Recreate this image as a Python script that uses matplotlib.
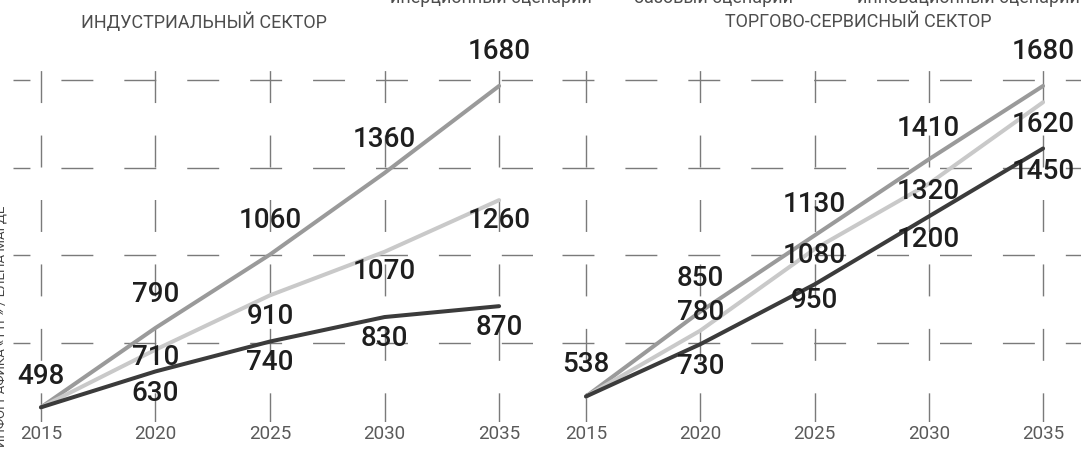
import matplotlib
matplotlib.use("Agg")
import matplotlib.pyplot as plt

plt.rcParams['lines.scale_dashes'] = False

# --- data ---
YEARS = [2015, 2020, 2025, 2030, 2035]
SCENARIOS = ["инерционный сценарий", "базовый сценарий", "инновационный сценарий"]

IND_INERT = [498, 630, 740, 830, 870]
IND_BASE = [498, 710, 910, 1070, 1260]
IND_INNOV = [498, 790, 1060, 1360, 1680]

TRD_INERT = [538, 730, 950, 1200, 1450]
TRD_BASE = [538, 780, 1080, 1320, 1620]
TRD_INNOV = [538, 850, 1130, 1410, 1680]

TITLES = ["ИНДУСТРИАЛЬНЫЙ СЕКТОР", "ТОРГОВО-СЕРВИСНЫЙ СЕКТОР"]
CREDIT = "ИНФОГРАФИКА «ТТР» / ЕЛЕНА МАГДЕ"

# --- styles ---
W, H = 1081, 451
COLORS = ["#3b3b3b", "#c9c9c9", "#9a9a9a"]   # inertial, base, innovation
GRID_C = "#7a7a7a"
Y_GRID = [735, 1057, 1379, 1701]
YLIM = (444, 1746)

# label vertical offsets in pixels (negative = above the point)
IND_DY = [[-31, 22, 21, 21, 21],
          [None, 8, 21, 20, 20],
          [None, -33, -34, -33, -34]]
TRD_DY = [[-32, 22, 16, 23, 23],
          [None, -18, 6, 8, 22],
          [None, -33, -31, -31, -34]]

LABEL_FONT = ['Roboto', 'DejaVu Sans']
LIGHT_FONT = ['Roboto', 'DejaVu Sans']

fig = plt.figure(figsize=(W / 100, H / 100), dpi=100)


def px_axes(x0, x1, y_top, y_bot):
    return fig.add_axes([x0 / W, 1 - y_bot / H, (x1 - x0) / W, (y_bot - y_top) / H])


def draw_panel(ax, series, dys, xlim, h_offset):
    ax.set_xlim(*xlim)
    ax.set_ylim(*YLIM)
    ax.set_xticks(YEARS)
    ax.set_yticks(Y_GRID)
    ax.set_yticklabels([])
    ax.tick_params(length=0, pad=2)
    for s in ax.spines.values():
        s.set_visible(False)
    for lab in ax.get_xticklabels():
        lab.set_family(LIGHT_FONT)
        lab.set_fontsize(13.5)
        lab.set_color("#5a5a5a")

    ax.grid(True, color=GRID_C, linewidth=1.0)
    for gl in ax.yaxis.get_gridlines():
        gl.set_linestyle((h_offset, (23.0, 22.3)))
    for gl in ax.xaxis.get_gridlines():
        gl.set_linestyle((2.0, (23.0, 23.4)))
    ax.set_axisbelow(True)

    # draw innovation, base, inertial (dark on top)
    for i in [2, 1, 0]:
        ax.plot(YEARS, series[i], color=COLORS[i], linewidth=2.9,
                solid_capstyle='round', zorder=3 + (2 - i))

    for i in range(3):
        for x, v, dy in zip(YEARS, series[i], dys[i]):
            if dy is None:
                continue
            ax.annotate(str(v), (x, v), xytext=(0, -dy * 0.72),
                        textcoords='offset points', ha='center', va='center',
                        fontsize=20, color="#1e1e1e", family=LABEL_FONT,
                        fontweight='medium', zorder=6, annotation_clip=False)


ax1 = px_axes(13, 533, 68, 422)
ax2 = px_axes(562, 1081, 68, 422)

draw_panel(ax1, [IND_INERT, IND_BASE, IND_INNOV], IND_DY, (2013.78, 2036.48), 10.8)
draw_panel(ax2, [TRD_INERT, TRD_BASE, TRD_INNOV], TRD_DY, (2013.95, 2036.66), 0.0)

# titles
fig.text(204 / W, 1 - 22 / H, TITLES[0], ha='center', va='center',
         fontsize=13, color="#4d4d4d", family=LIGHT_FONT)
fig.text(858 / W, 1 - 22 / H, TITLES[1], ha='center', va='center',
         fontsize=13, color="#4d4d4d", family=LIGHT_FONT)

# legend texts (cropped at top edge of image)
for x, name in zip([491, 714, 968], SCENARIOS):
    fig.text(x / W, 1 - 3 / H, name, ha='center', va='baseline',
             fontsize=13, color="#4d4d4d", family=LIGHT_FONT)

# credit line on the left edge (cropped)
fig.text(1.5 / W, 1 - 326 / H, CREDIT, rotation=90, ha='center', va='center',
         fontsize=9.5, color="#444444", family=LIGHT_FONT)

fig.savefig("out.png", dpi=100)
